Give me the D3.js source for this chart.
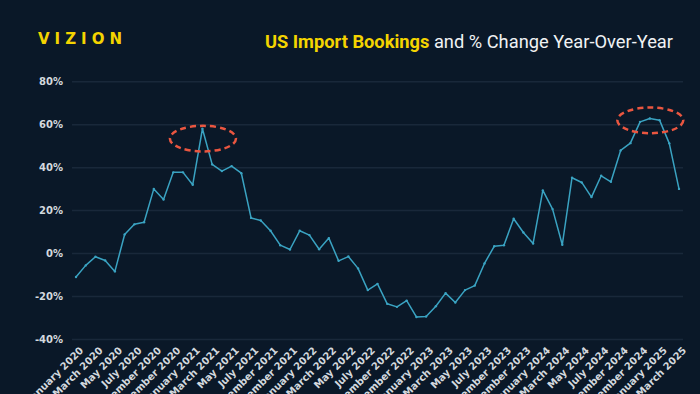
<!DOCTYPE html>
<html>
<head>
<meta charset="utf-8">
<script src="https://cdn.jsdelivr.net/npm/d3@7"></script>
<style>
  html, body { margin: 0; padding: 0; background: #0a1828; }
  svg { display: block; }
  .tick-label { font-family: "DejaVu Sans", sans-serif; font-size: 10px; font-weight: bold; fill: #d3d8de; }
</style>
</head>
<body>
<script>
// Monthly % change YoY, Jan 2020 .. Mar 2025
var months = [];
var monthNames = ['January','February','March','April','May','June','July','August','September','October','November','December'];
for (var y = 2020; y <= 2025; y++) {
  for (var m = 0; m < 12; m++) {
    if (y == 2025 && m > 2) break;
    months.push(monthNames[m] + ' ' + y);
  }
}

var yoy = [
  -10.9, -5.5, -1.5, -3.2, -8.3, 8.9, 13.6, 14.6, 30.1, 25.2, 37.8, 37.8,
  32.0, 58.1, 41.5, 38.4, 40.7, 37.4, 16.6, 15.4, 10.6, 3.9, 1.9, 10.6,
  8.6, 2.0, 7.2, -3.4, -1.4, -6.9, -17.0, -14.1, -23.4, -24.8, -21.9, -29.5,
  -29.3, -24.5, -18.4, -22.8, -17.0, -14.9, -4.6, 3.4, 3.9, 16.2, 9.8, 4.7,
  29.4, 20.7, 4.1, 35.3, 33.1, 26.3, 36.2, 33.4, 48.0, 51.4, 61.3, 62.9,
  62.1, 51.3, 30.1
];

var yTicks = [-40, -20, 0, 20, 40, 60, 80];

// every second month gets a label
var xLabels = months.filter(function(d, i) { return i % 2 == 0; });

// highlighted peaks: centre month and level
var highlights = [
  { month: 'February 2021', level: 53.5 },
  { month: 'December 2024', level: 62 }
];

var svg_width = 700;
var svg_height = 394;

var svg = d3.select('body').append('svg')
  .attr('width', svg_width)
  .attr('height', svg_height);

svg.append('rect')
  .attr('width', svg_width)
  .attr('height', svg_height)
  .attr('fill', '#0a1828');

var x = d3.scalePoint()
  .domain(months)
  .range([76, 679]);

var y = d3.scaleLinear()
  .domain([-40, 80])
  .range([339.5, 81.7]);

// grid
svg.selectAll('line.grid')
  .data(yTicks)
  .enter()
  .append('line')
  .attr('class', 'grid')
  .attr('x1', 72)
  .attr('x2', 683)
  .attr('y1', function(d) { return y(d); })
  .attr('y2', function(d) { return y(d); })
  .attr('stroke', '#19283a')
  .attr('stroke-width', 1.5);

svg.selectAll('text.y-label')
  .data(yTicks)
  .enter()
  .append('text')
  .attr('class', 'tick-label y-label')
  .attr('x', 63)
  .attr('y', function(d) { return y(d); })
  .attr('dy', '0.35em')
  .attr('text-anchor', 'end')
  .text(function(d) { return d + '%'; });

svg.selectAll('text.x-label')
  .data(xLabels)
  .enter()
  .append('text')
  .attr('class', 'tick-label x-label')
  .attr('text-anchor', 'end')
  .attr('transform', function(d) {
    return 'translate(' + (x(d) + 8) + ',351) rotate(-45)';
  })
  .text(function(d) { return d; });

// line
var line = d3.line()
  .x(function(d, i) { return x(months[i]); })
  .y(function(d) { return y(d); });

svg.append('path')
  .datum(yoy)
  .attr('fill', 'none')
  .attr('stroke', '#3aa3c2')
  .attr('stroke-width', 1.5)
  .attr('stroke-linejoin', 'round')
  .attr('d', line);

svg.selectAll('circle.pt')
  .data(yoy)
  .enter()
  .append('circle')
  .attr('class', 'pt')
  .attr('cx', function(d, i) { return x(months[i]); })
  .attr('cy', function(d) { return y(d); })
  .attr('r', 1.2)
  .attr('fill', '#3aa3c2');

// dashed ellipses round the peaks
svg.selectAll('ellipse.hl')
  .data(highlights)
  .enter()
  .append('ellipse')
  .attr('class', 'hl')
  .attr('cx', function(d) { return x(d.month) + 0.5; })
  .attr('cy', function(d) { return y(d.level); })
  .attr('rx', 33)
  .attr('ry', 12.8)
  .attr('fill', 'none')
  .attr('stroke', '#ea5640')
  .attr('stroke-width', 2.5)
  .attr('stroke-dasharray', '6,4');

// header
svg.append('text')
  .attr('x', 38)
  .attr('y', 44)
  .attr('fill', '#f4d400')
  .style('font-family', '"DejaVu Sans", sans-serif')
  .style('font-weight', 'bold')
  .style('font-size', '15px')
  .style('letter-spacing', '5px')
  .text('VIZION');

var title = svg.append('text')
  .attr('x', 673)
  .attr('y', 48)
  .attr('text-anchor', 'end')
  .style('font-family', 'Roboto, sans-serif')
  .style('font-size', '18.3px');

title.append('tspan')
  .attr('fill', '#f4d400')
  .style('font-weight', 'bold')
  .text('US Import Bookings');

title.append('tspan')
  .attr('fill', '#f0f2f4')
  .text(' and % Change Year-Over-Year');
</script>
</body>
</html>
